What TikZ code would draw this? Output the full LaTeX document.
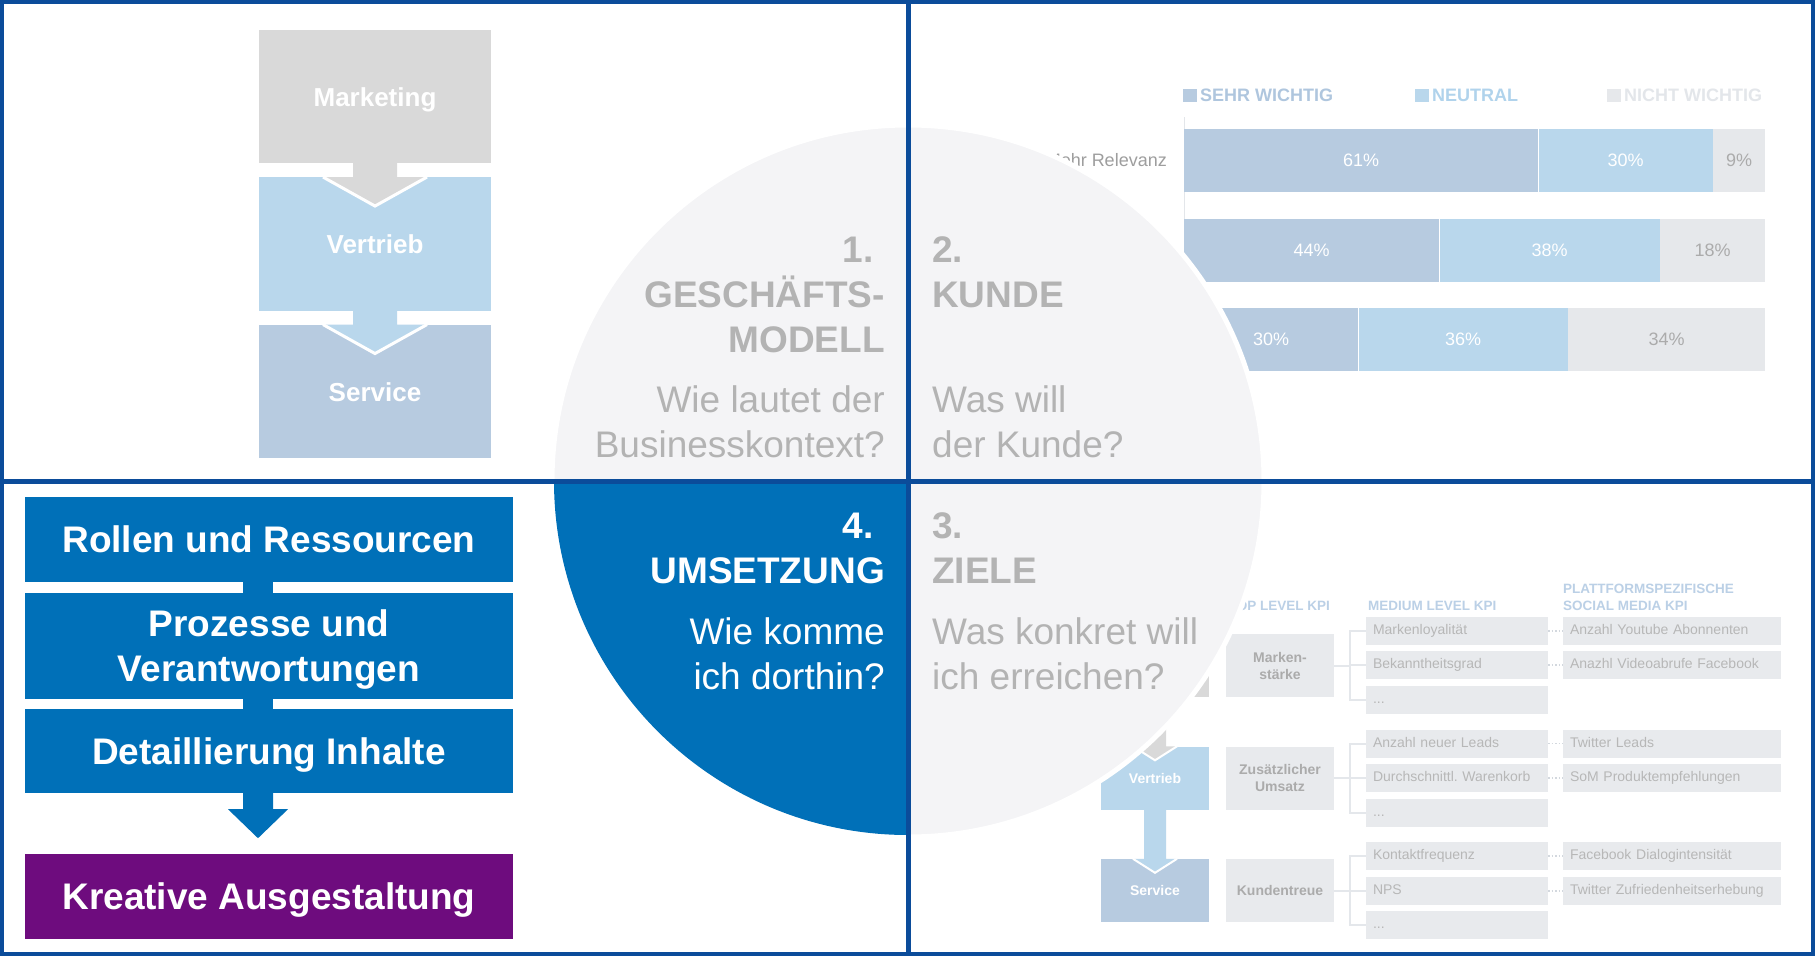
\documentclass[tikz,border=0pt]{standalone}
\usepackage{fontspec}
\setmainfont{Liberation Sans}
\usetikzlibrary{positioning}
\frenchspacing

\definecolor{frameblue}{HTML}{0B4C9A}
\definecolor{darkblue}{HTML}{0070B8}
\definecolor{lila}{HTML}{6E0C7E}
\definecolor{mktgray}{HTML}{D9D9D9}
\definecolor{vtrblue}{HTML}{B9D7EC}
\definecolor{srvblue}{HTML}{B7CBE0}
\definecolor{circgray}{HTML}{F4F4F6}
\definecolor{titlegray}{HTML}{B3B3B3}
\definecolor{nichtgray}{HTML}{E6E8EB}
\definecolor{pctgray}{HTML}{ABABAB}
\definecolor{labelgray}{HTML}{9E9E9E}
\definecolor{axisgray}{HTML}{E3E6EA}
\definecolor{kpifill}{HTML}{E8EAED}
\definecolor{kpitopgray}{HTML}{ABABAB}
\definecolor{kpitextgray}{HTML}{B7B7B7}
\definecolor{kpihd}{HTML}{BBD0E6}
\definecolor{linegray}{HTML}{E4E7EB}
\definecolor{dotgray}{HTML}{D3D8DE}
\definecolor{sehrtext}{HTML}{AFC6DE}
\definecolor{neutext}{HTML}{B0D3EC}
\definecolor{nichttext}{HTML}{E3E6EA}

\tikzstyle{process} = [rectangle, minimum width=232pt, minimum height=133.5pt, inner sep=0pt,
text height=19pt, text depth=0pt, text=white, font=\fontsize{26}{30}\selectfont\bfseries]
\tikzstyle{stepbox} = [rectangle, fill=darkblue, minimum width=488pt, minimum height=85pt,
inner sep=0pt, text=white, align=center, font=\fontsize{37}{45}\selectfont\bfseries]
\tikzstyle{oneline} = [text height=26pt, text depth=0pt]
\tikzstyle{qhead} = [inner sep=0pt, font=\fontsize{37}{45}\selectfont\bfseries]
\tikzstyle{qask} = [inner sep=0pt, font=\fontsize{37}{45}\selectfont]
\tikzstyle{legsq} = [rectangle, minimum size=13.5pt, inner sep=0pt]
\tikzstyle{legtext} = [inner sep=0pt, font=\fontsize{18}{22}\selectfont\bfseries]
\tikzstyle{seg} = [rectangle, minimum height=63pt, inner sep=0pt, anchor=west,
font=\fontsize{18}{22}\selectfont]
\tikzstyle{smallproc} = [rectangle, minimum width=108pt, minimum height=63pt, inner sep=0pt,
text height=10pt, text depth=0pt, text=white, font=\fontsize{14}{17}\selectfont\bfseries]
\tikzstyle{kpitop} = [rectangle, fill=kpifill, minimum width=108pt, minimum height=63pt,
inner sep=0pt, align=center, text=kpitopgray, font=\fontsize{14}{17}\selectfont\bfseries]
\tikzstyle{kpibox} = [rectangle, fill=kpifill, minimum height=28pt, inner xsep=7pt, inner ysep=0pt,
text height=10pt, text depth=3pt, align=left, text=kpitextgray, font=\fontsize{14}{17}\selectfont]
\tikzstyle{midbox} = [kpibox, text width=168pt]
\tikzstyle{platbox} = [kpibox, text width=204pt]
\tikzstyle{kpihead} = [inner sep=0pt, text=kpihd, font=\fontsize{13.5}{17}\selectfont\bfseries]
\tikzstyle{kpiline} = [draw=linegray, line width=2pt]
\tikzstyle{dotline} = [draw=dotgray, dotted, line width=1.5pt]

% block arrow: from, to, colour, stem half width, head half width, head depth, rim
\newcommand{\flowarrow}[7]{%
\fill[#3] ([xshift=-#4pt,yshift=1pt]#1.south) -- ([xshift=-#4pt]#2.north) -- ([xshift=-#5pt]#2.north)
  -- ([yshift=-#6pt]#2.north) -- ([xshift=#5pt]#2.north) -- ([xshift=#4pt]#2.north)
  -- ([xshift=#4pt,yshift=1pt]#1.south) -- cycle;
\draw[white, line width=#7] ([xshift=-#5pt]#2.north) -- ([yshift=-#6pt]#2.north) -- ([xshift=#5pt]#2.north);}

\begin{document}
\begin{tikzpicture}[x=1pt, y=-1pt, node distance=147.5pt]
\fill[white] (0,0) rectangle (1815,956);
\useasboundingbox (0,0) rectangle (1815,956);

% business model chain
\node (mkt) [process, fill=mktgray] at (375,96.5) {Marketing};
\node (vtr) [process, fill=vtrblue, below of=mkt] {Vertrieb};
\node (srv) [process, fill=srvblue, below of=vtr] {Service};
\flowarrow{mkt}{vtr}{mktgray}{22}{52}{29}{3pt}
\flowarrow{vtr}{srv}{vtrblue}{22}{52}{29}{3pt}

% implementation steps
\node (roll) [stepbox, oneline] at (269,539.5) {Rollen und Ressourcen};
\node (proz) [stepbox, minimum height=106pt] at (269,646) {Prozesse und\\\raisebox{0pt}[\height][0pt]{Verantwortungen}};
\node (detail) [stepbox, oneline, minimum height=84pt] at (269,751) {Detaillierung Inhalte};
\node (kreativ) [stepbox, oneline, fill=lila] at (269,896.5) {Kreative Ausgestaltung};
\fill[darkblue] ([xshift=-26pt,yshift=1pt]roll.south) rectangle ([xshift=4pt,yshift=-1pt]proz.north);
\fill[darkblue] ([xshift=-26pt,yshift=1pt]proz.south) rectangle ([xshift=4pt,yshift=-1pt]detail.north);
\fill[darkblue] ([xshift=-26pt,yshift=1pt]detail.south) -- ([xshift=-26pt,yshift=-16pt]detail.south)
  -- ([xshift=-41pt,yshift=-16pt]detail.south) -- ([xshift=-11pt,yshift=-45pt]detail.south)
  -- ([xshift=19pt,yshift=-16pt]detail.south) -- ([xshift=4pt,yshift=-16pt]detail.south)
  -- ([xshift=4pt,yshift=1pt]detail.south) -- cycle;

% customer survey
\node (lg1) [legsq, fill=srvblue] at (1190,95.5) {};
\node [legtext, text=sehrtext, right=3pt of lg1] {SEHR WICHTIG};
\node (lg2) [legsq, fill=vtrblue] at (1422,95.5) {};
\node [legtext, text=neutext, right=3pt of lg2] {NEUTRAL};
\node (lg3) [legsq, fill=nichtgray] at (1614,95.5) {};
\node [legtext, text=nichttext, right=3pt of lg3] {NICHT WICHTIG};
\draw[axisgray, line width=1pt] (1184,117) -- (1184,372);
\node [inner sep=0pt, anchor=east, text=labelgray, font=\fontsize{18}{22}\selectfont] at (1167,160.5) {Mehr Relevanz};
\node (r1a) [seg, fill=srvblue, text=white, minimum width=354pt] at (1184,160.5) {61\%};
\node (r1b) [seg, fill=vtrblue, text=white, minimum width=174pt] at (r1a.east) {30\%};
\node (r1c) [seg, fill=nichtgray, text=pctgray, minimum width=52pt] at (r1b.east) {9\%};
\node (r2a) [seg, fill=srvblue, text=white, minimum width=255pt] at (1184,250) {44\%};
\node (r2b) [seg, fill=vtrblue, text=white, minimum width=220pt] at (r2a.east) {38\%};
\node (r2c) [seg, fill=nichtgray, text=pctgray, minimum width=105pt] at (r2b.east) {18\%};
\node (r3a) [seg, fill=srvblue, text=white, minimum width=174pt] at (1184,339.5) {30\%};
\node (r3b) [seg, fill=vtrblue, text=white, minimum width=209pt] at (r3a.east) {36\%};
\node (r3c) [seg, fill=nichtgray, text=pctgray, minimum width=197pt] at (r3b.east) {34\%};

% kpi tree
\node [kpihead, anchor=base east] at (1330,610) {TOP LEVEL KPI};
\node [kpihead, anchor=base west] at (1368,610) {MEDIUM LEVEL KPI};
\node [kpihead, anchor=base west] at (1563,593) {PLATTFORMSPEZIFISCHE};
\node [kpihead, anchor=base west] at (1563,610) {SOCIAL MEDIA KPI};

\node (mkt2) [smallproc, fill=mktgray] at (1155,665.5) {};
\node (vtr2) [smallproc, fill=vtrblue, below of=mkt2, node distance=112.5pt] {Vertrieb};
\node (srv2) [smallproc, fill=srvblue, below of=vtr2, node distance=112.5pt] {Service};
\flowarrow{mkt2}{vtr2}{mktgray}{11}{22}{14}{2pt}
\flowarrow{vtr2}{srv2}{vtrblue}{11}{22}{14}{2pt}

\node (ka) [kpitop] at (1280,665.5) {Marken-\\stärke};
\node (kb) [kpitop] at (1280,778) {Zusätzlicher\\Umsatz};
\node (kc) [kpitop] at (1280,890.5) {Kundentreue};

\node (ma1) [midbox] at (1457,631) {Markenloyalität};
\node (ma2) [midbox] at (1457,665) {Bekanntheitsgrad};
\node (ma3) [midbox] at (1457,700) {...};
\node (mb1) [midbox] at (1457,743.5) {Anzahl neuer Leads};
\node (mb2) [midbox] at (1457,778) {Durchschnittl. Warenkorb};
\node (mb3) [midbox] at (1457,813) {...};
\node (mc1) [midbox] at (1457,856) {Kontaktfrequenz};
\node (mc2) [midbox] at (1457,891) {NPS};
\node (mc3) [midbox] at (1457,925) {...};

\node (pa1) [platbox] at (1672,631) {Anzahl Youtube Abonnenten};
\node (pa2) [platbox] at (1672,665) {Anazhl Videoabrufe Facebook};
\node (pb1) [platbox] at (1672,743.5) {Twitter Leads};
\node (pb2) [platbox] at (1672,778) {SoM Produktempfehlungen};
\node (pc1) [platbox] at (1672,856) {Facebook Dialogintensität};
\node (pc2) [platbox] at (1672,891) {Twitter Zufriedenheitserhebung};

\foreach \t/\m in {ka/ma, kb/mb, kc/mc} {
  \draw[kpiline] (\t.east) -- ++(16,0) |- (\m1.west);
  \draw[kpiline] (\t.east) -- ++(16,0) |- (\m2.west);
  \draw[kpiline] (\t.east) -- ++(16,0) |- (\m3.west);
}
\foreach \r in {a,b,c} {
  \draw[dotline] (m\r1.east) -- (p\r1.west);
  \draw[dotline] (m\r2.east) -- (p\r2.west);
}

% the four-part circle
\filldraw[fill=circgray, draw=white, line width=5pt] (908,481) circle[radius=356pt];
\begin{scope}
\clip (540,481) rectangle (908,840);
\fill[darkblue] (908,481) circle[radius=354pt];
\end{scope}

\node [qhead, text=titlegray, anchor=base east] at (874,262) {1.};
\node [qhead, text=titlegray, anchor=base east] at (885,307) {GESCHÄFTS-};
\node [qhead, text=titlegray, anchor=base east] at (885,352) {MODELL};
\node [qask, text=titlegray, anchor=base east] at (885,412) {Wie lautet der};
\node [qask, text=titlegray, anchor=base east] at (885,457) {Businesskontext?};

\node [qhead, text=titlegray, anchor=base west] at (932,262) {2.};
\node [qhead, text=titlegray, anchor=base west] at (932,307) {KUNDE};
\node [qask, text=titlegray, anchor=base west] at (932,412) {Was will};
\node [qask, text=titlegray, anchor=base west] at (932,457) {der Kunde?};

\node [qhead, text=white, anchor=base east] at (874,538) {4.};
\node [qhead, text=white, anchor=base east] at (885,583) {UMSETZUNG};
\node [qask, text=white, anchor=base east] at (885,644) {Wie komme};
\node [qask, text=white, anchor=base east] at (885,689) {ich dorthin?};

\node [qhead, text=titlegray, anchor=base west] at (932,538) {3.};
\node [qhead, text=titlegray, anchor=base west] at (932,583) {ZIELE};
\node [qask, text=titlegray, anchor=base west] at (932,644) {Was konkret will};
\node [qask, text=titlegray, anchor=base west] at (932,689) {ich erreichen?};

% frame
\draw[frameblue, line width=5pt] (908,0) -- (908,956);
\draw[frameblue, line width=5pt] (0,481.5) -- (1815,481.5);
\draw[frameblue, line width=4pt] (2,2) rectangle (1813,954);
\end{tikzpicture}
\end{document}
